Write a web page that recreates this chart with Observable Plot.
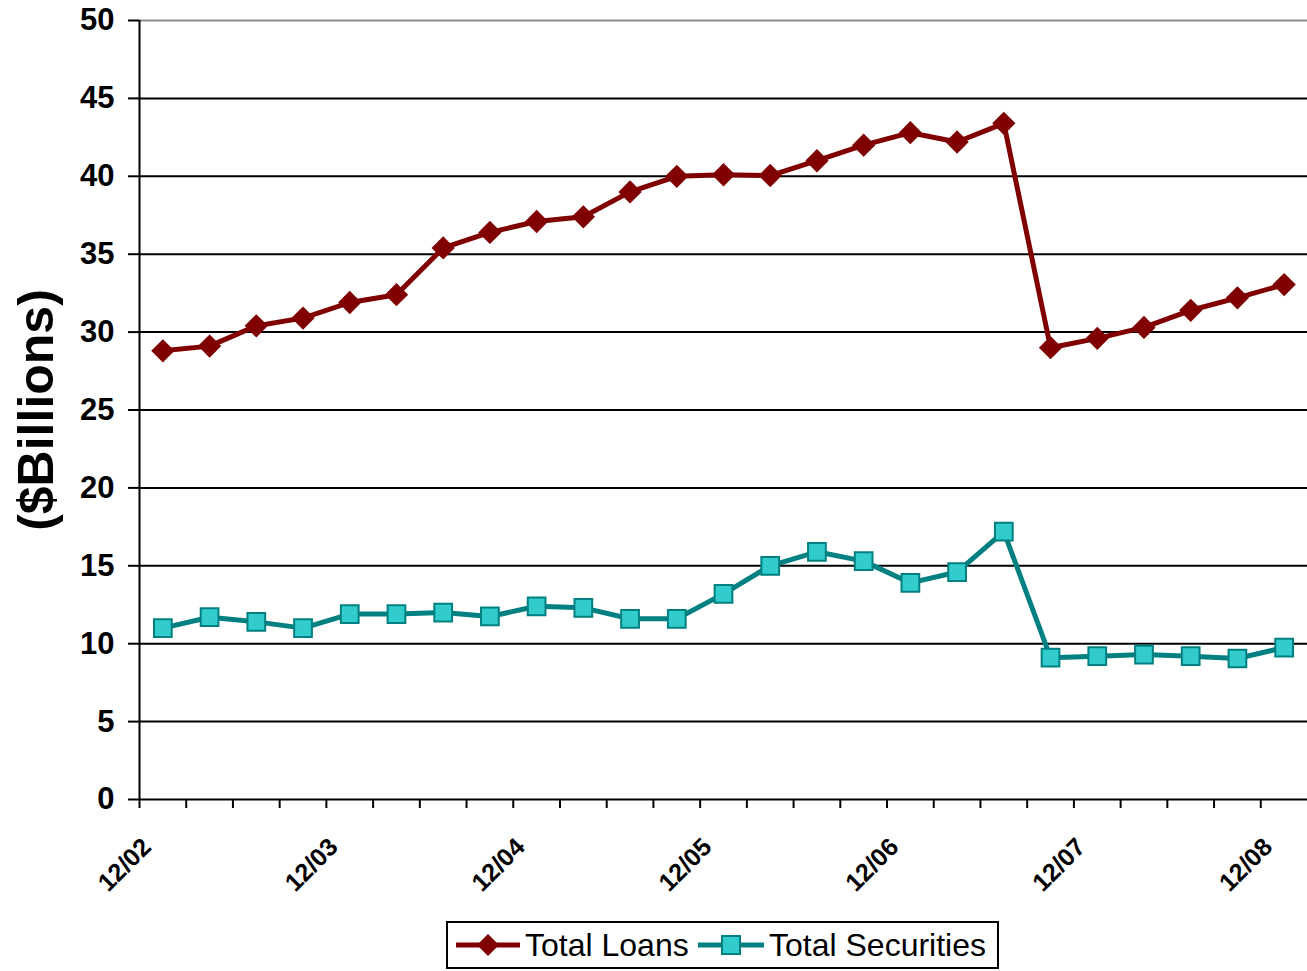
<!DOCTYPE html>
<html>
<head>
<meta charset="utf-8">
<script src="https://cdn.jsdelivr.net/npm/d3@7"></script>
<script src="https://cdn.jsdelivr.net/npm/@observablehq/plot@0.6"></script>
<style>
  html, body { margin: 0; padding: 0; background: #fff; }
  body { width: 1307px; height: 971px; position: relative; overflow: hidden;
         font-family: "Liberation Sans", Arial, sans-serif; }
  #chart svg { display: block; }
  #legend { position: absolute; left: 446px; top: 921px; width: 553px; height: 48px;
            box-sizing: border-box; border: 2px solid #000; background: #fff; }
  #legend .item { position: absolute; top: 0; height: 44px; display: flex; align-items: center; }
  #legend svg { display: block; }
  #legend span { font-size: 32px; color: #000; margin-left: 4px; line-height: 44px; white-space: nowrap; }
</style>
</head>
<body>
<div id="chart"></div>
<div id="legend">
  <div class="item" style="left:7px">
    <svg width="66" height="30" viewBox="0 0 66 30">
      <line x1="1" y1="15" x2="65" y2="15" stroke="#800000" stroke-width="5"/>
      <path d="M33,4 L44,15 L33,26 L22,15 Z" fill="#800000"/>
    </svg>
    <span>Total Loans</span>
  </div>
  <div class="item" style="left:249px">
    <svg width="68" height="30" viewBox="0 0 68 30">
      <line x1="1" y1="15" x2="67" y2="15" stroke="#008080" stroke-width="5"/>
      <rect x="25" y="6" width="18" height="18" fill="#33CCCC" stroke="#008080" stroke-width="2"/>
    </svg>
    <span>Total Securities</span>
  </div>
</div>
<script>
// Quarterly balances, $ billions, from the quarter after 12/02 through 12/08
const totalLoans = [28.8, 29.1, 30.4, 30.9, 31.9, 32.4, 35.4, 36.4, 37.1, 37.4,
                    39.0, 40.0, 40.1, 40.05, 41.0, 42.0, 42.8, 42.2, 43.4,
                    29.0, 29.6, 30.3, 31.4, 32.2, 33.05];
const totalSecurities = [11.0, 11.7, 11.4, 11.0, 11.9, 11.9, 12.0, 11.75, 12.4, 12.3,
                         11.6, 11.6, 13.2, 15.0, 15.9, 15.3, 13.9, 14.6, 17.2,
                         9.1, 9.2, 9.3, 9.2, 9.05, 9.75];
// Year-end labels, one every four quarter boundaries
const yearLabels = ["12/02", "12/03", "12/04", "12/05", "12/06", "12/07", "12/08"];
const yTicks = d3.range(0, 51, 5);

const nQuarters = totalLoans.length;
// Each quarter occupies one unit on x; points sit at the middle of their quarter
const loanRows = totalLoans.map((v, i) => ({q: i + 0.5, v}));
const secRows = totalSecurities.map((v, i) => ({q: i + 0.5, v}));
const boundaries = d3.range(0, nQuarters);

const chart = Plot.plot({
  width: 1307,
  height: 912,
  marginLeft: 139,
  marginRight: 0,
  marginTop: 20,
  marginBottom: 113,
  style: {fontFamily: "'Liberation Sans', Arial, sans-serif", background: "#fff", color: "#000"},
  x: {domain: [0, nQuarters], axis: null},
  y: {domain: [0, 50], axis: null},
  marks: [
    // horizontal gridlines, top one is the lighter plot border
    Plot.ruleY(yTicks.filter(t => t > 0), {
      stroke: d => d === 50 ? "#8c8c8c" : "#000", strokeWidth: 2
    }),
    // y axis
    Plot.axisY({
      ticks: yTicks, tickSize: 11, tickPadding: 14, fontSize: 31, fontWeight: "bold",
      label: null, strokeWidth: 2, stroke: "#000"
    }),
    Plot.ruleX([0], {stroke: "#000", strokeWidth: 2}),
    // x axis with a tick at each quarter boundary
    Plot.axisX({
      ticks: boundaries, tickSize: 9, tickFormat: () => "", label: null,
      strokeWidth: 2, stroke: "#000"
    }),
    Plot.ruleY([0], {stroke: "#000", strokeWidth: 2}),
    Plot.text(yearLabels, {
      x: (d, i) => i * 4, frameAnchor: "bottom", dx: 13, dy: 49, rotate: -45,
      textAnchor: "end", fontSize: 25, fontWeight: "bold", fill: "#000"
    }),
    // y axis title
    Plot.text(["($Billions)"], {
      frameAnchor: "left", textAnchor: "middle", dx: -103, rotate: -90,
      fontSize: 50, fontWeight: "bold", fill: "#000"
    }),
    // Total Loans
    Plot.line(loanRows, {x: "q", y: "v", stroke: "#800000", strokeWidth: 5}),
    Plot.dot(loanRows, {x: "q", y: "v", symbol: "diamond2", r: 10.5, fill: "#800000", stroke: "none"}),
    // Total Securities
    Plot.line(secRows, {x: "q", y: "v", stroke: "#008080", strokeWidth: 5}),
    Plot.dot(secRows, {x: "q", y: "v", symbol: "square", r: 10, fill: "#33CCCC",
                       stroke: "#008080", strokeWidth: 2})
  ]
});
document.getElementById("chart").appendChild(chart);
</script>
</body>
</html>
